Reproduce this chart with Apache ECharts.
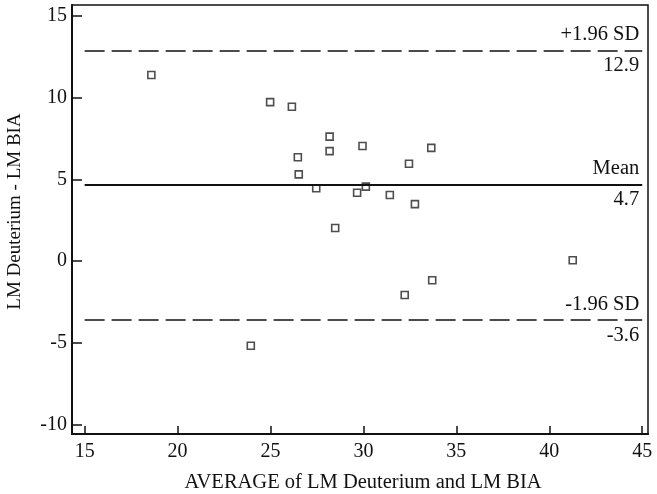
<!DOCTYPE html>
<html>
<head>
<meta charset="utf-8">
<script src="https://cdn.jsdelivr.net/npm/echarts@6/dist/echarts.min.js"></script>
<style>html,body{margin:0;padding:0;background:#fff;}#c{width:657px;height:494px;}</style>
</head>
<body>
<div id="c"></div>
<script>
var xVals = [18.59, 24.98, 26.15, 28.18, 28.18, 29.95, 26.47, 26.52, 27.46, 29.66, 30.13, 28.48, 33.65, 32.45, 31.42, 32.77, 33.70, 32.22, 23.94, 41.26];
var yVals = [11.39, 9.73, 9.45, 7.62, 6.73, 7.05, 6.36, 5.31, 4.46, 4.19, 4.56, 2.03, 6.93, 5.96, 4.05, 3.49, -1.17, -2.07, -5.17, 0.06];
var xTicks = [15, 20, 25, 30, 35, 40, 45];
var yTicks = [-10, -5, 0, 5, 10, 15];
var meanVal = 4.7, upperVal = 12.9, lowerVal = -3.6;
var lineStart = 15, lineEnd = 45;
var labels = { upper: '+1.96 SD', mean: 'Mean', lower: '-1.96 SD' };

var FONT = "'Liberation Serif', 'Times New Roman', serif";
var TXT = '#111';
var pts = xVals.map(function (x, i) { return [x, yVals[i]]; });

function refLine(val, name, dashed) {
  var style = { color: '#111', width: dashed ? 1.5 : 2, type: dashed ? [20, 7] : 'solid' };
  var lblBase = { show: true, fontFamily: FONT, fontSize: 20.5, color: TXT, distance: [3, 5] };
  return [
    [{ coord: [lineStart, val], lineStyle: style, label: Object.assign({}, lblBase, { position: 'insideEndTop', formatter: name }) },
     { coord: [lineEnd, val] }],
    [{ coord: [lineStart, val], lineStyle: { color: 'rgba(0,0,0,0)', width: 0 }, label: Object.assign({}, lblBase, { position: 'insideEndBottom', formatter: String(val) }) },
     { coord: [lineEnd, val] }]
  ];
}

var chart = echarts.init(document.getElementById('c'), null, { renderer: 'canvas' });
chart.setOption({
  backgroundColor: '#fff',
  animation: false,
  grid: { left: 72, right: 9, top: 5, bottom: 60, show: true, borderColor: '#111', borderWidth: 1.5, backgroundColor: 'transparent', containLabel: false, outerBoundsMode: 'none' },
  xAxis: {
    type: 'value', min: 14.32, max: 45.31,
    name: 'AVERAGE of LM Deuterium and LM BIA', nameLocation: 'middle', nameGap: 38,
    nameTextStyle: { fontFamily: FONT, fontSize: 20.5, color: TXT, padding: [0, 0, 0, 6] },
    axisLine: { show: true, onZero: false, lineStyle: { color: '#111', width: 2 } },
    axisTick: { show: true, inside: true, length: 8, lineStyle: { color: '#111', width: 1.5 }, customValues: xTicks },
    axisLabel: { fontFamily: FONT, fontSize: 20, color: TXT, margin: 8, customValues: xTicks },
    splitLine: { show: false }
  },
  yAxis: {
    type: 'value', min: -10.57, max: 15.67,
    name: 'LM Deuterium - LM BIA', nameLocation: 'middle', nameGap: 47, nameRotate: 90,
    nameTextStyle: { fontFamily: FONT, fontSize: 19, color: TXT, padding: [0, 0, 0, 16] },
    axisLine: { show: true, onZero: false, lineStyle: { color: '#111', width: 2 } },
    axisTick: { show: true, inside: true, length: 10, lineStyle: { color: '#111', width: 1.5 }, customValues: yTicks },
    axisLabel: { fontFamily: FONT, fontSize: 20, color: TXT, margin: 5, customValues: yTicks },
    splitLine: { show: false }
  },
  series: [{
    type: 'scatter',
    data: pts,
    symbol: 'rect',
    symbolSize: 7,
    itemStyle: { color: '#fff', borderColor: '#222', borderWidth: 1.6 },
    z: 3,
    markLine: {
      silent: true,
      symbol: ['none', 'none'],
      animation: false,
      data: [].concat(refLine(upperVal, labels.upper, true), refLine(meanVal, labels.mean, false), refLine(lowerVal, labels.lower, true))
    }
  }]
});
</script>
</body>
</html>
